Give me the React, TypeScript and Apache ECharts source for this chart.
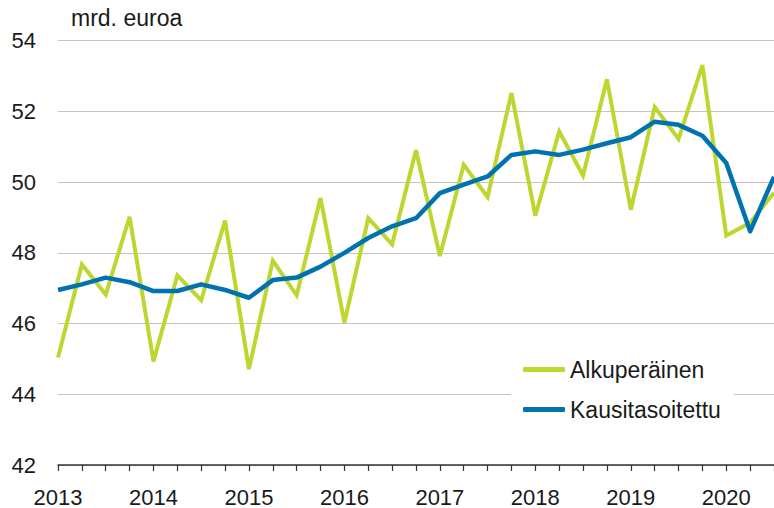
import React, { useEffect, useRef } from "react";
import * as echarts from "echarts";

const quarters: string[] = [];
for (let y = 2013; y <= 2020; y++) {
  for (let q = 1; q <= 4; q++) {
    if (y === 2020 && q > 3) break;
    quarters.push(`${y}Q${q}`);
  }
}

const alkuperainen = [
  45.04, 47.67, 46.82, 49.02,
  44.93, 47.36, 46.66, 48.91,
  44.71, 47.78, 46.8, 49.55,
  46.03, 48.98, 48.24, 50.9,
  47.91, 50.49, 49.58, 52.52,
  49.05, 51.43, 50.19, 52.91,
  49.22, 52.12, 51.22, 53.31,
  48.49, 48.85, 49.7,
];

const kausitasoitettu = [
  46.95, 47.11, 47.3, 47.17,
  46.92, 46.92, 47.11, 46.95,
  46.73, 47.23, 47.3, 47.61,
  48.0, 48.42, 48.75, 48.98,
  49.69, 49.93, 50.16, 50.77,
  50.87, 50.77, 50.92, 51.1,
  51.27, 51.71, 51.62, 51.31,
  50.54, 48.61, 50.15,
];

const seriesNames = ["Alkuperäinen", "Kausitasoitettu"];
const unitLabel = "mrd. euroa";

const FONT = "Liberation Sans, Arial, sans-serif";

export default function App() {
  const ref = useRef<HTMLDivElement>(null);
  useEffect(() => {
    if (!ref.current) return;
    const chart = echarts.init(ref.current, null, { renderer: "svg" });
    chart.setOption({
      animation: false,
      backgroundColor: "#fff",
      textStyle: { fontFamily: FONT },
      grid: { left: 58, right: 0, top: 40.7, bottom: 42, containLabel: false },
      graphic: [
        {
          type: "text",
          left: 71,
          top: 6,
          style: { text: unitLabel, fontSize: 23, fontFamily: FONT, fill: "#1a1a1a" },
        },
      ],
      legend: {
        orient: "vertical",
        left: 511,
        top: 346,
        padding: [12, 13, 12, 12],
        backgroundColor: "#ffffff",
        itemWidth: 42,
        itemHeight: 5,
        itemGap: 17,
        icon: "roundRect",
        textStyle: { fontSize: 23, color: "#1a1a1a", fontFamily: FONT, padding: [0, 0, 0, 0] },
        data: seriesNames,
      },
      xAxis: {
        type: "category",
        data: quarters,
        boundaryGap: false,
        axisLine: { show: true, lineStyle: { color: "#333", width: 1.5 } },
        axisTick: { show: true, interval: 0, length: 6, lineStyle: { color: "#333", width: 1.2 } },
        axisLabel: {
          interval: 3,
          margin: 21,
          fontSize: 22,
          color: "#1a1a1a",
          fontFamily: FONT,
          formatter: (v: string) => v.slice(0, 4),
        },
        splitLine: { show: false },
      },
      yAxis: {
        type: "value",
        min: 42,
        max: 54,
        interval: 2,
        axisLine: { show: false },
        axisTick: { show: false },
        axisLabel: { fontSize: 22, color: "#1a1a1a", margin: 22, fontFamily: FONT },
        splitLine: { show: true, lineStyle: { color: "#c4c4c4", width: 1.2 } },
      },
      series: [
        {
          name: seriesNames[0],
          type: "line",
          data: alkuperainen,
          symbol: "none",
          color: "#bed62f",
          lineStyle: { width: 4, color: "#bed62f", join: "miter" },
        },
        {
          name: seriesNames[1],
          type: "line",
          data: kausitasoitettu,
          symbol: "none",
          color: "#0072b0",
          lineStyle: { width: 4.5, color: "#0072b0", join: "round" },
        },
      ],
    });
    return () => chart.dispose();
  }, []);
  return <div ref={ref} style={{ width: 774, height: 508, position: "absolute", left: 0, top: 0 }} />;
}
